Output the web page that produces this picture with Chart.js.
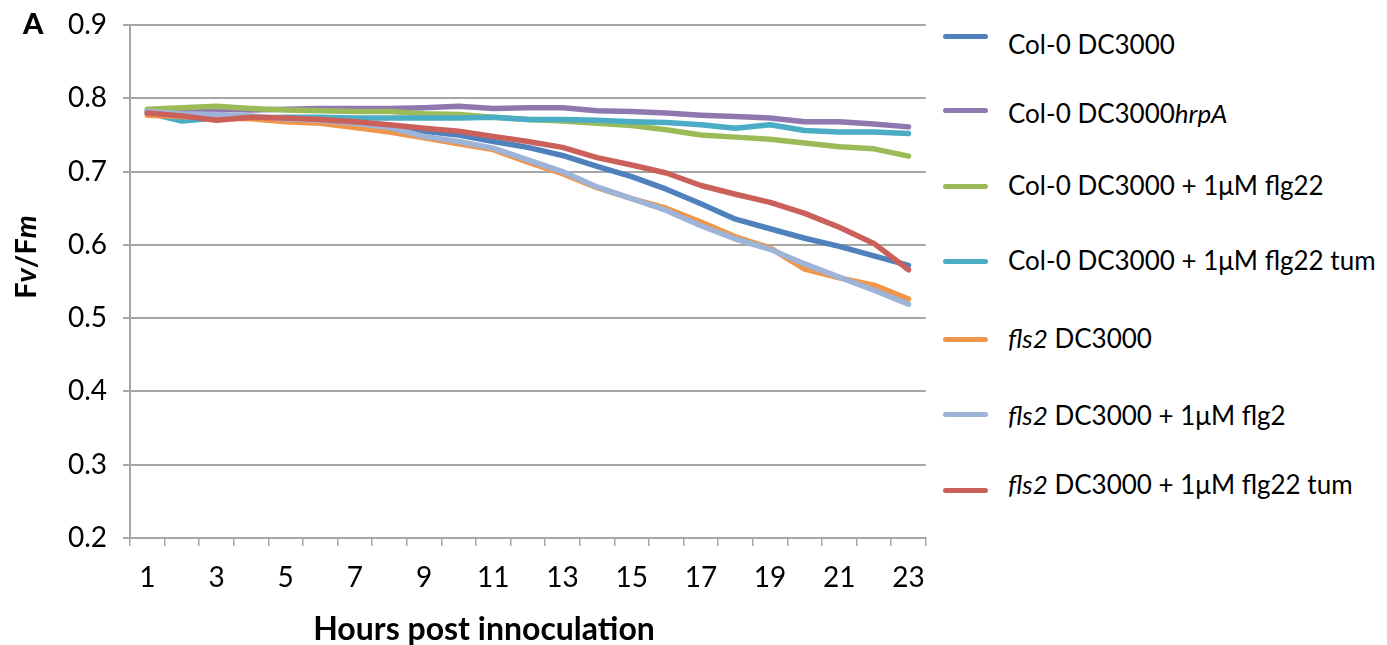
<!DOCTYPE html>
<html>
<head>
<meta charset="utf-8">
<script src="https://cdn.jsdelivr.net/npm/chart.js@4.4.0/dist/chart.umd.min.js"></script>
<style>
  body { margin: 0; background: #fff; font-family: Lato, "Open Sans", sans-serif; }
  #wrap { position: relative; width: 1387px; height: 645px; }
  #chart { position: absolute; left: 0; top: 0; }
  .txt { position: absolute; color: #000; white-space: nowrap; line-height: 30px; }
  .swatch { position: absolute; height: 5px; border-radius: 3px; }
</style>
</head>
<body>
<div id="wrap">
  <canvas id="chart" width="940" height="645"></canvas>
  <div class="txt" style="left:23px; top:8px; font-size:29px; font-weight:900;">A</div>
  <div class="txt" id="ytitle" style="left:25px; top:257px; font-size:29px; font-weight:bold; transform:translate(-50%,-50%) rotate(-90deg);">F<i>v</i>/F<i>m</i></div>
  <div class="txt" style="left:484px; top:628px; font-size:32px; font-weight:bold; transform:translate(-50%,-50%);">Hours post innoculation</div>
  <div id="legend"></div>
</div>
<script>
// Hours post inoculation
const hours = [1, 2, 3, 4, 5, 6, 7, 8, 9, 10, 11, 12, 13, 14, 15, 16, 17, 18, 19, 20, 21, 22, 23];
const yTicks = [0.2, 0.3, 0.4, 0.5, 0.6, 0.7, 0.8, 0.9];

// Fv/Fm values per series
const col0Dc3000 = [0.781, 0.777, 0.775, 0.773, 0.772, 0.770, 0.767, 0.763, 0.755, 0.750, 0.741, 0.733, 0.722, 0.707, 0.693, 0.676, 0.656, 0.635, 0.622, 0.609, 0.598, 0.585, 0.572];
const col0HrpA = [0.783, 0.784, 0.785, 0.784, 0.785, 0.786, 0.786, 0.786, 0.787, 0.789, 0.786, 0.787, 0.787, 0.783, 0.782, 0.780, 0.777, 0.775, 0.773, 0.768, 0.768, 0.765, 0.761];
const col0Flg22 = [0.785, 0.787, 0.789, 0.786, 0.784, 0.783, 0.782, 0.782, 0.779, 0.778, 0.774, 0.771, 0.769, 0.766, 0.763, 0.757, 0.750, 0.747, 0.744, 0.739, 0.734, 0.731, 0.721];
const col0Flg22Tum = [0.780, 0.769, 0.773, 0.773, 0.774, 0.774, 0.773, 0.773, 0.773, 0.773, 0.774, 0.771, 0.771, 0.770, 0.768, 0.767, 0.764, 0.759, 0.764, 0.756, 0.754, 0.754, 0.752];
const fls2Dc3000 = [0.777, 0.775, 0.773, 0.772, 0.768, 0.766, 0.760, 0.754, 0.746, 0.738, 0.730, 0.713, 0.697, 0.678, 0.663, 0.650, 0.631, 0.611, 0.596, 0.567, 0.555, 0.545, 0.526];
const fls2Flg2 = [0.782, 0.779, 0.778, 0.776, 0.772, 0.770, 0.766, 0.760, 0.748, 0.741, 0.732, 0.716, 0.700, 0.679, 0.663, 0.647, 0.626, 0.608, 0.594, 0.574, 0.556, 0.538, 0.519];
const fls2Flg22Tum = [0.780, 0.776, 0.770, 0.774, 0.773, 0.771, 0.768, 0.764, 0.759, 0.755, 0.748, 0.741, 0.733, 0.719, 0.709, 0.698, 0.681, 0.669, 0.658, 0.643, 0.624, 0.602, 0.566];

const seriesNames = [
  'Col-0 DC3000',
  'Col-0 DC3000<i>hrpA</i>',
  'Col-0 DC3000 + 1μM flg22',
  'Col-0 DC3000 + 1μM flg22 tum',
  '<i>fls2</i> DC3000',
  '<i>fls2</i> DC3000 + 1μM flg2',
  '<i>fls2</i> DC3000 + 1μM flg22 tum'
];
const seriesData = [col0Dc3000, col0HrpA, col0Flg22, col0Flg22Tum, fls2Dc3000, fls2Flg2, fls2Flg22Tum];
const seriesColors = ['#4F81BD', '#8F78B0', '#9BBB59', '#4BACC6', '#F0964A', '#9DB3D8', '#CB605A'];

const gridColor = '#a6a6a6';
const tickFont = { family: 'Lato', size: 28 };

// Build datasets (later series drawn on top, like Excel)
const datasets = seriesData.map((d, i) => ({
  label: seriesNames[i].replace(/<[^>]+>/g, ''),
  data: d,
  borderColor: seriesColors[i],
  backgroundColor: seriesColors[i],
  borderWidth: 5.5,
  pointRadius: 0,
  tension: 0,
  borderCapStyle: 'round',
  borderJoinStyle: 'round',
  fill: false,
  order: seriesData.length - i
}));

new Chart(document.getElementById('chart'), {
  type: 'line',
  data: { labels: hours, datasets },
  options: {
    responsive: false,
    animation: false,
    layout: { padding: { left: 0, top: 25, right: 12, bottom: 0 } },
    plugins: { legend: { display: false }, tooltip: { enabled: false } },
    scales: {
      x: {
        type: 'category',
        offset: true,
        grid: { display: true, drawOnChartArea: false, drawTicks: true, tickLength: 8, color: gridColor, lineWidth: 1.5, offset: true },
        border: { display: true, color: gridColor, width: 2 },
        ticks: {
          autoSkip: false,
          maxRotation: 0,
          padding: 15,
          color: '#000',
          font: tickFont,
          callback: (v, i) => (i % 2 === 0 ? String(hours[i]) : '')
        },
        afterFit: s => { s.height = 107; }
      },
      y: {
        min: 0.2,
        max: 0.9,
        afterBuildTicks: s => { s.ticks = yTicks.map(v => ({ value: v })); },
        grid: { color: gridColor, lineWidth: 2, tickLength: 7 },
        border: { display: true, color: gridColor, width: 2 },
        ticks: { padding: 16, color: '#000', font: tickFont, callback: v => v.toFixed(1) },
        afterFit: s => { s.width = 130; s.paddingTop = 10; s.paddingBottom = 10; }
      }
    }
  }
});

// Legend with italic gene names (HTML so mixed styles work)
const legendLineY = [36, 110, 186, 261, 339, 414, 490];
const legendTextY = [44, 113, 185, 260, 338, 415, 484];
document.getElementById('legend').innerHTML = seriesNames.map((name, i) => `
  <div class="swatch" style="left:943px; top:${legendLineY[i] - 2}px; width:45px; background:${seriesColors[i]};"></div>
  <div class="txt" style="left:1008px; top:${legendTextY[i] - 15}px; font-size:26px;">${name}</div>
`).join('');
</script>
</body>
</html>
